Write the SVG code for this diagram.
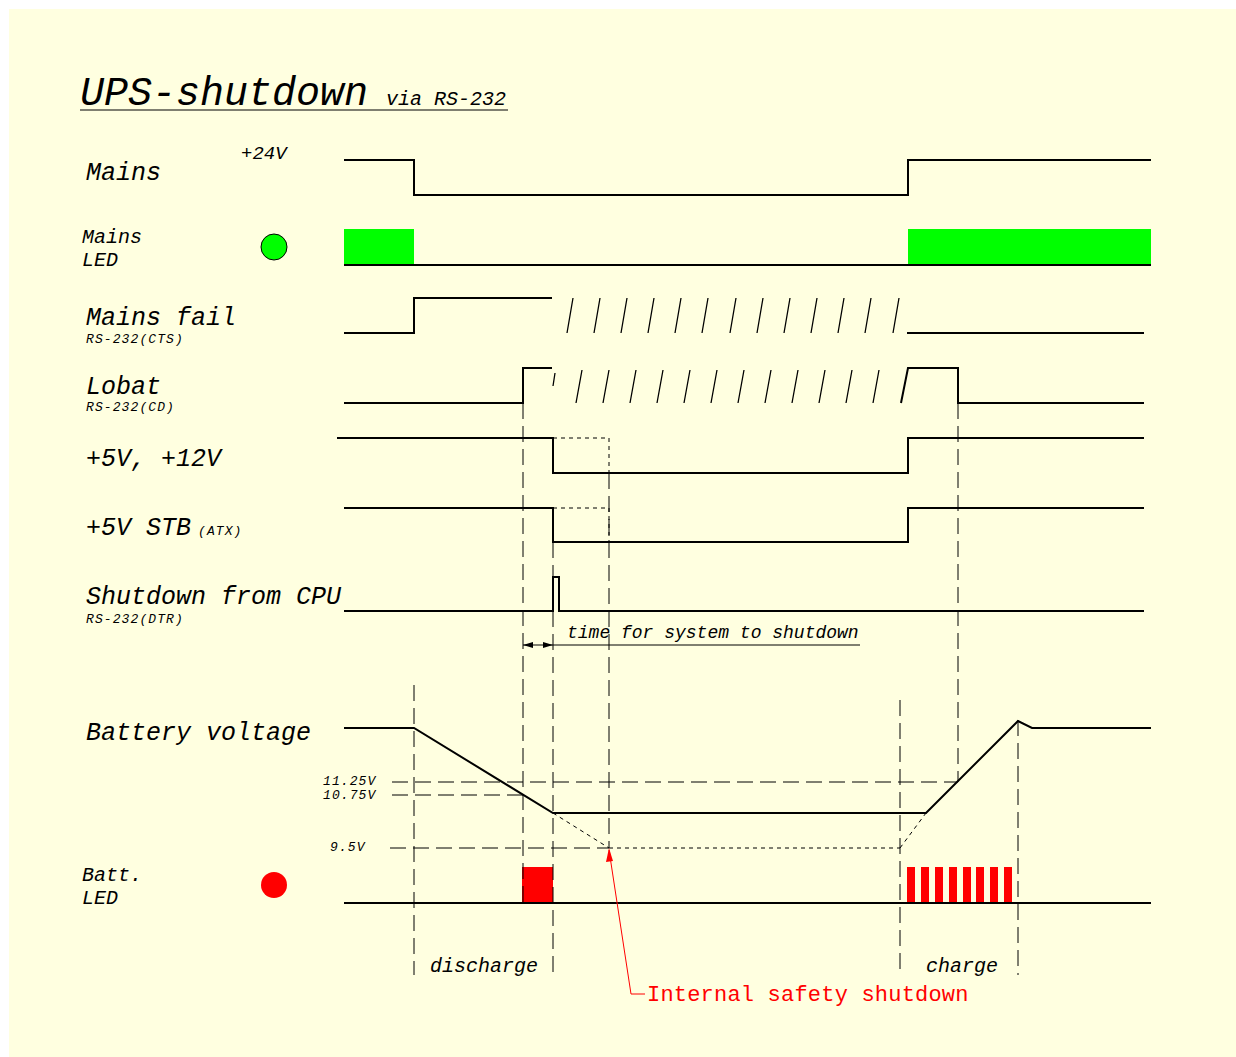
<svg xmlns="http://www.w3.org/2000/svg" width="1236" height="1057" viewBox="0 0 1236 1057">
<style>
.bg{fill:#FFFFE0}
.sig{fill:none;stroke:#000;stroke-width:2}
.sl{fill:none;stroke:#000;stroke-width:1.3}
.dash{fill:none;stroke:#000;stroke-width:1;stroke-dasharray:16 7}
.dot{fill:none;stroke:#000;stroke-width:1;stroke-dasharray:4 4}
.t{font-family:"Liberation Mono","Cousine",monospace;font-style:italic;fill:#000}
.lbl{font-size:25px}
.sm{font-size:13px;letter-spacing:1.1px}
.mid{font-size:20px}
.red{font-family:"Liberation Mono","DejaVu Sans Mono",monospace;font-size:22px;letter-spacing:0.2px;fill:#FF0000}
</style>
<rect class="bg" x="9" y="9" width="1227" height="1048"/>

<g id="title">
<text class="t" x="80" y="105" font-size="40">UPS-shutdown</text>
<text class="t" x="386" y="105" font-size="20">via RS-232</text>
<line x1="80" y1="110" x2="508" y2="110" stroke="#000" stroke-width="1.2"/>
</g>

<g id="mains">
<text class="t lbl" x="86" y="180">Mains</text>
<text class="t" x="241" y="159" font-size="19">+24V</text>
<polyline class="sig" points="344,160 414,160 414,195 908,195 908,160 1151,160"/>
</g>

<g id="mains-led">
<text class="t mid" x="82" y="243">Mains</text>
<text class="t mid" x="82" y="266">LED</text>
<circle cx="274" cy="247" r="13" fill="#00FF00" stroke="#000" stroke-width="1"/>
<rect x="344" y="229" width="70" height="36" fill="#00FF00"/>
<rect x="908" y="229" width="243" height="36" fill="#00FF00"/>
<line class="sig" x1="344" y1="265" x2="1151" y2="265"/>
</g>

<g id="mains-fail">
<text class="t lbl" x="86" y="325">Mains fail</text>
<text class="t sm" x="86" y="343">RS-232(CTS)</text>
<polyline class="sig" points="344,333 414,333 414,298 552,298"/>
<path class="sl" d="M567,333L573,298M594,333L600,298M621,333L627,298M648,333L654,298M675,333L681,298M702,333L708,298M730,333L736,298M757,333L763,298M784,333L790,298M811,333L817,298M838,333L844,298M865,333L871,298M893,333L899,298"/>
<line class="sig" x1="907" y1="333" x2="1144" y2="333"/>
</g>

<g id="lobat">
<text class="t lbl" x="86" y="394">Lobat</text>
<text class="t sm" x="86" y="411">RS-232(CD)</text>
<polyline class="sig" points="344,403 523,403 523,368 552,368"/>
<path class="sl" d="M553,386L555,373M576,403L582,370M603,403L609,370M630,403L636,370M657,403L663,370M684,403L690,370M711,403L717,370M738,403L744,370M765,403L771,370M792,403L798,370M819,403L825,370M846,403L852,370M873,403L879,370"/>
<polyline class="sig" points="901,403 908,368 958,368 958,403 1144,403"/>
</g>

<g id="v5-12">
<text class="t lbl" x="86" y="466">+5V, +12V</text>
<polyline class="sig" points="337,438 553,438 553,473 908,473 908,438 1144,438"/>
<polyline class="dot" points="553,438 609,438 609,473"/>
</g>

<g id="v5stb">
<text class="t lbl" x="86" y="535">+5V STB</text>
<text class="t sm" x="198" y="535">(ATX)</text>
<polyline class="sig" points="344,508 553,508 553,542 908,542 908,508 1144,508"/>
<polyline class="dot" points="553,508 609,508 609,542"/>
</g>

<g id="shutdown-cpu">
<text class="t lbl" x="86" y="604">Shutdown from CPU</text>
<text class="t sm" x="86" y="623">RS-232(DTR)</text>
<polyline class="sig" points="344,611 553,611 553,577 559,577 559,611 1144,611"/>
</g>

<g id="time-label">
<text class="t" x="567" y="638" font-size="18">time for system to shutdown</text>
<line x1="523" y1="645" x2="860" y2="645" stroke="#000" stroke-width="1"/>
<polygon points="523,645 533,642 533,648" fill="#000"/>
<polygon points="553,645 543,642 543,648" fill="#000"/>
</g>

<g id="battery-voltage">
<text class="t lbl" x="86" y="740">Battery voltage</text>
<text class="t sm" x="323" y="785">11.25V</text>
<text class="t sm" x="323" y="799">10.75V</text>
<text class="t sm" x="330" y="851">9.5V</text>
<polyline class="sig" points="344,728 414,728 553,813 926,813 1018,721 1032,728 1151,728"/>
<line class="dot" x1="553" y1="813" x2="609" y2="848"/>
<line class="dot" x1="900" y1="848" x2="926" y2="813"/>
</g>

<g id="batt-led">
<text class="t mid" x="82" y="881">Batt.</text>
<text class="t mid" x="82" y="904">LED</text>
<circle cx="274" cy="885" r="13" fill="#FF0000"/>
<rect x="522" y="867" width="31" height="36" fill="#FF0000"/>
<g fill="#FF0000">
<rect x="907" y="867" width="8" height="36"/>
<rect x="921" y="867" width="8" height="36"/>
<rect x="935" y="867" width="8" height="36"/>
<rect x="949" y="867" width="8" height="36"/>
<rect x="963" y="867" width="8" height="36"/>
<rect x="976" y="867" width="8" height="36"/>
<rect x="990" y="867" width="8" height="36"/>
<rect x="1004" y="867" width="8" height="36"/>
</g>
<line class="sig" x1="344" y1="903" x2="1151" y2="903"/>
</g>

<g id="phases">
<text class="t mid" x="430" y="972">discharge</text>
<text class="t mid" x="926" y="972">charge</text>
</g>

<g id="connectors">
<line class="dash" x1="523" y1="403" x2="523" y2="903"/>
<line class="dash" x1="553" y1="542" x2="553" y2="975"/>
<line class="dash" x1="609" y1="473" x2="609" y2="848"/>
<line class="dash" x1="414" y1="685" x2="414" y2="975"/>
<line class="dash" x1="900" y1="700" x2="900" y2="975"/>
<line class="dash" x1="958" y1="403" x2="958" y2="782"/>
<line class="dash" x1="1018" y1="720" x2="1018" y2="975"/>
<line class="dash" x1="392" y1="782" x2="958" y2="782"/>
<line class="dash" x1="392" y1="795" x2="523" y2="795"/>
<line class="dash" x1="390" y1="848" x2="609" y2="848"/>
<line class="dot" x1="609" y1="848" x2="900" y2="848"/>
</g>

<g id="internal-safety">
<polyline points="609,850 631,994 645,994" fill="none" stroke="#FF0000" stroke-width="1"/>
<polygon points="609,848 606,862 613,861" fill="#FF0000"/>
<text class="red" x="647" y="1001">Internal safety shutdown</text>
</g>
</svg>
